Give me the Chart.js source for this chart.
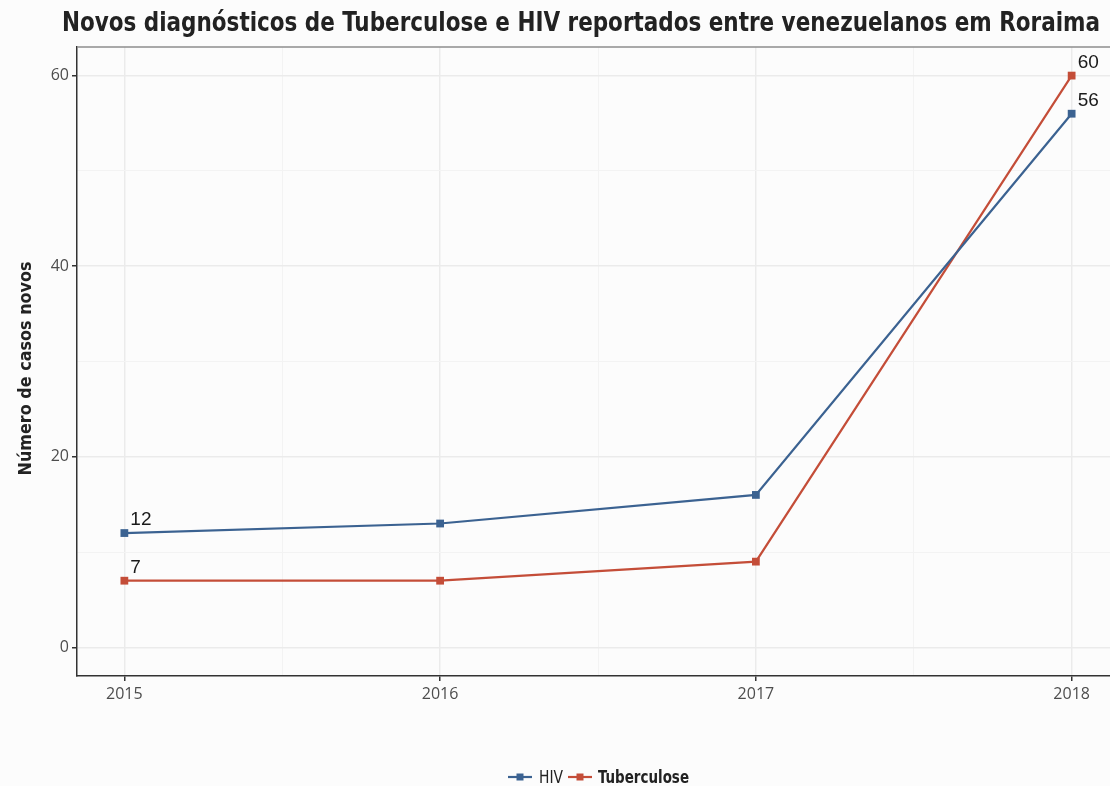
<!DOCTYPE html>
<html>
<head>
<meta charset="utf-8">
<script src="https://cdn.jsdelivr.net/npm/chart.js@4.4.1/dist/chart.umd.min.js"></script>
<style>
  html, body { margin: 0; padding: 0; background: #fcfcfc; overflow: hidden; width: 1110px; height: 786px; }
  canvas { display: block; }
</style>
</head>
<body>
<canvas id="c" width="1130" height="786"></canvas>
<script>
// ---- data ----
const years = [2015, 2016, 2017, 2018];
const hivCases = [12, 13, 16, 56];
const tbCases = [7, 7, 9, 60];
const labeledIndices = [0, 3];
const xTickValues = [2015, 2015.5, 2016, 2016.5, 2017, 2017.5, 2018];
const yTickValues = [0, 10, 20, 30, 40, 50, 60];
const yLabeledValues = [0, 20, 40, 60];
const seriesNames = ['HIV', 'Tuberculose'];
const titleText = 'Novos diagnósticos de Tuberculose e HIV reportados entre venezuelanos em Roraima';
const yTitleText = 'Número de casos novos';

const blue = '#3b6291';
const red = '#c44d38';
const condensed = "'Liberation Sans Narrow', 'DejaVu Sans Condensed', Roboto, sans-serif";

function fitText(ctx, text, x, y, targetW, font, align) {
  ctx.font = font;
  const w = ctx.measureText(text).width;
  ctx.save();
  ctx.translate(x, y);
  ctx.scale(targetW / w, 1);
  ctx.textAlign = align || 'left';
  ctx.fillText(text, 0, 0);
  ctx.restore();
}

const decor = {
  id: 'decor',
  beforeDraw(chart) {
    const ctx = chart.ctx;
    ctx.save();
    ctx.fillStyle = '#fcfcfc';
    ctx.fillRect(0, 0, chart.width, chart.height);
    ctx.restore();
  },
  afterDraw(chart) {
    const ctx = chart.ctx;
    const a = chart.chartArea;
    ctx.save();
    // top panel border
    ctx.strokeStyle = '#8e8e8e';
    ctx.lineWidth = 1.5;
    ctx.beginPath();
    ctx.moveTo(a.left, a.top);
    ctx.lineTo(a.right, a.top);
    ctx.stroke();
    // title
    ctx.fillStyle = '#222';
    ctx.textBaseline = 'alphabetic';
    fitText(ctx, titleText, 62, 31, 1038, 'bold 27px ' + condensed, 'left');
    // y title
    ctx.save();
    ctx.translate(31, (a.top + a.bottom) / 2 + 7);
    ctx.rotate(-Math.PI / 2);
    fitText(ctx, yTitleText, 0, 0, 214, 'bold 18px ' + condensed, 'center');
    ctx.restore();
    // legend
    const ly = 777;
    const items = [
      {color: blue, x: 508, tx: 539, tw: 24, text: seriesNames[0], bold: false},
      {color: red, x: 568, tx: 598, tw: 91, text: seriesNames[1], bold: true}
    ];
    items.forEach(it => {
      ctx.strokeStyle = it.color;
      ctx.lineWidth = 2.2;
      ctx.beginPath();
      ctx.moveTo(it.x, ly);
      ctx.lineTo(it.x + 24, ly);
      ctx.stroke();
      ctx.fillStyle = it.color;
      ctx.fillRect(it.x + 12 - 3.5, ly - 3.5, 7, 7);
      ctx.fillStyle = '#222';
      fitText(ctx, it.text, it.tx, 783, it.tw, (it.bold ? 'bold ' : '') + '17px ' + condensed, 'left');
    });
    ctx.restore();
  },
  afterDatasetsDraw(chart) {
    const ctx = chart.ctx;
    ctx.save();
    ctx.fillStyle = '#1a1a1a';
    ctx.font = "19px 'Liberation Sans', Arial, sans-serif";
    ctx.textAlign = 'left';
    ctx.textBaseline = 'alphabetic';
    chart.data.datasets.forEach((ds, di) => {
      const meta = chart.getDatasetMeta(di);
      labeledIndices.forEach(i => {
        const pt = meta.data[i];
        ctx.fillText(String(ds.data[i].y), pt.x + 6, pt.y - 8);
      });
    });
    ctx.restore();
  }
};

const tickFont = {family: "'Open Sans', sans-serif", size: 16};

new Chart(document.getElementById('c'), {
  type: 'line',
  data: {
    datasets: [
      {
        label: seriesNames[0],
        data: years.map((y, i) => ({x: y, y: hivCases[i]})),
        borderColor: blue, backgroundColor: blue,
        borderWidth: 2.2, pointStyle: 'rect', pointRadius: 5.5, pointBorderWidth: 0,
        tension: 0
      },
      {
        label: seriesNames[1],
        data: years.map((y, i) => ({x: y, y: tbCases[i]})),
        borderColor: red, backgroundColor: red,
        borderWidth: 2.2, pointStyle: 'rect', pointRadius: 5.5, pointBorderWidth: 0,
        tension: 0
      }
    ]
  },
  options: {
    responsive: false,
    animation: false,
    devicePixelRatio: 1,
    layout: {padding: {left: 0, top: 47, right: 11, bottom: 0}},
    plugins: {legend: {display: false}, title: {display: false}, tooltip: {enabled: false}},
    scales: {
      x: {
        type: 'linear', min: 2014.85, max: 2018.15,
        afterBuildTicks: s => { s.ticks = xTickValues.map(v => ({value: v})); },
        afterFit: s => { s.height = 110; },
        ticks: {
          callback: v => Number.isInteger(v) ? String(v) : '',
          font: tickFont, color: '#4d4d4d', padding: 4, maxRotation: 0, autoSkip: false
        },
        grid: {
          color: c => Number.isInteger(c.tick.value) ? '#ebebeb' : '#f3f3f3',
          lineWidth: c => Number.isInteger(c.tick.value) ? 1.5 : 1,
          tickLength: 5,
          tickColor: c => Number.isInteger(c.tick.value) ? '#333' : 'rgba(0,0,0,0)',
          tickWidth: 1.5
        },
        border: {display: true, color: '#333', width: 1.5}
      },
      y: {
        type: 'linear', min: -3, max: 63,
        afterBuildTicks: s => { s.ticks = yTickValues.map(v => ({value: v})); },
        afterFit: s => { s.width = 77; },
        ticks: {
          callback: v => yLabeledValues.includes(v) ? String(v) : '',
          font: tickFont, color: '#4d4d4d', padding: 3, autoSkip: false
        },
        grid: {
          color: c => yLabeledValues.includes(c.tick.value) ? '#ebebeb' : '#f3f3f3',
          lineWidth: c => yLabeledValues.includes(c.tick.value) ? 1.5 : 1,
          tickLength: 5,
          tickColor: c => yLabeledValues.includes(c.tick.value) ? '#333' : 'rgba(0,0,0,0)',
          tickWidth: 1.5
        },
        border: {display: true, color: '#333', width: 1.5}
      }
    }
  },
  plugins: [decor]
});
</script>
</body>
</html>
